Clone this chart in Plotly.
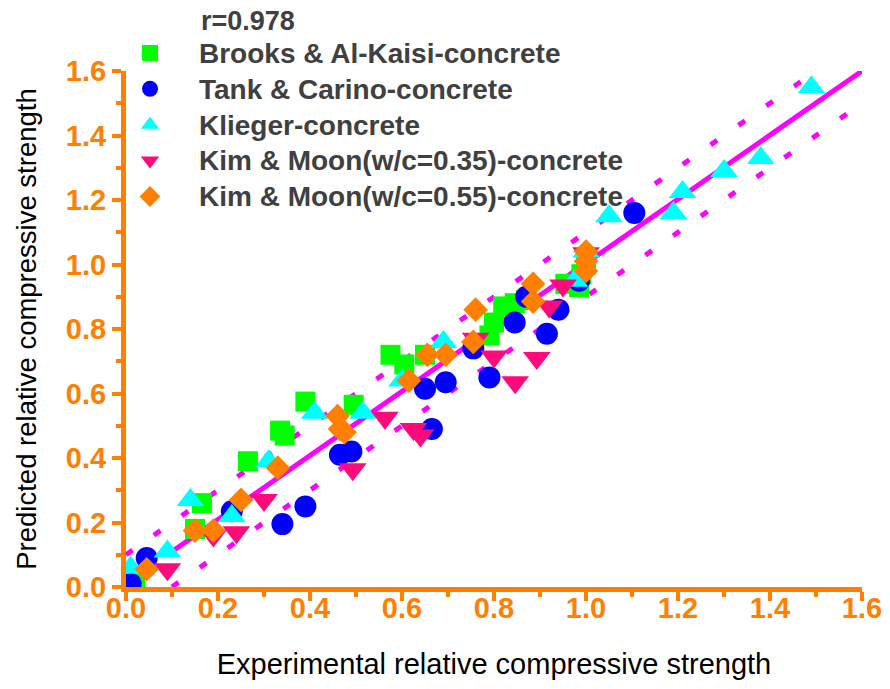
import plotly.graph_objects as go

# ---- data ----
brooks_x = [0.02, 0.15, 0.165, 0.265, 0.335, 0.345, 0.39, 0.495, 0.575, 0.605, 0.65,
            0.79, 0.80, 0.82, 0.845, 0.87, 0.955, 0.985, 1.0, 0.99]
brooks_y = [0.01, 0.18, 0.26, 0.39, 0.485, 0.47, 0.575, 0.565, 0.72, 0.69, 0.72,
            0.78, 0.82, 0.87, 0.88, 0.89, 0.94, 0.93, 1.0, 0.97]

tank_x = [0.01, 0.045, 0.23, 0.34, 0.39, 0.465, 0.49, 0.65, 0.695, 0.665, 0.755,
          0.79, 0.845, 0.87, 0.915, 0.94, 0.985, 1.105]
tank_y = [0.01, 0.09, 0.235, 0.195, 0.25, 0.41, 0.42, 0.615, 0.635, 0.49, 0.74,
          0.65, 0.82, 0.90, 0.785, 0.86, 0.95, 1.16]

klieger_x = [0.01, 0.09, 0.14, 0.23, 0.31, 0.41, 0.515, 0.60, 0.69, 0.975, 1.0,
             1.05, 1.19, 1.21, 1.30, 1.38, 1.49]
klieger_y = [0.06, 0.11, 0.27, 0.22, 0.39, 0.54, 0.54, 0.64, 0.76, 0.95, 1.04,
             1.15, 1.16, 1.225, 1.29, 1.33, 1.55]

kim35_x = [0.09, 0.19, 0.24, 0.30, 0.493, 0.563, 0.625, 0.64, 0.76, 0.80, 0.846,
           0.893, 0.92, 0.95, 1.0]
kim35_y = [0.055, 0.16, 0.17, 0.27, 0.365, 0.525, 0.49, 0.47, 0.77, 0.715, 0.635,
           0.71, 0.87, 0.935, 1.035]

kim55_x = [0.045, 0.15, 0.19, 0.25, 0.33, 0.46, 0.465, 0.475, 0.615, 0.655, 0.695,
           0.755, 0.76, 0.885, 0.885, 1.0, 1.0, 1.0]
kim55_y = [0.055, 0.175, 0.175, 0.27, 0.37, 0.53, 0.49, 0.48, 0.64, 0.72, 0.72,
           0.76, 0.86, 0.94, 0.885, 1.04, 1.01, 0.98]

fit_x = [0.09, 1.6]
fit_y = [0.10, 1.6]
upper_x = [0.0, 1.5]
upper_y = [0.1, 1.6]
lower_x = [0.1, 1.6]
lower_y = [0.0, 1.5]

tick_vals = [0.0, 0.2, 0.4, 0.6, 0.8, 1.0, 1.2, 1.4, 1.6]
tick_text = ["0.0", "0.2", "0.4", "0.6", "0.8", "1.0", "1.2", "1.4", "1.6"]

ORANGE = "#FF8000"
MAGENTA = "#FF00FF"
FONT = "Arial, Liberation Sans, sans-serif"

fig = go.Figure()

# fit line and bands
fig.add_trace(go.Scatter(x=upper_x, y=upper_y, mode="lines", showlegend=False,
                         line=dict(color=MAGENTA, width=5, dash="8px,26px")))
fig.add_trace(go.Scatter(x=lower_x, y=lower_y, mode="lines", showlegend=False,
                         line=dict(color=MAGENTA, width=5, dash="8px,26px")))
fig.add_trace(go.Scatter(x=fit_x, y=fit_y, mode="lines", showlegend=False,
                         line=dict(color=MAGENTA, width=5)))

series = [
    ("Brooks & Al-Kaisi-concrete", brooks_x, brooks_y, "square", "#00FF00", 20),
    ("Tank & Carino-concrete", tank_x, tank_y, "circle", "#0000FF", 22),
    ("Klieger-concrete", klieger_x, klieger_y, "triangle-up", "#00FFFF", 24),
    ("Kim & Moon(w/c=0.35)-concrete", kim35_x, kim35_y, "triangle-down", "#FF0A7A", 24),
    ("Kim & Moon(w/c=0.55)-concrete", kim55_x, kim55_y, "diamond", ORANGE, 19),
]
for name, xs, ys, sym, col, sz in series:
    fig.add_trace(go.Scatter(x=xs, y=ys, mode="markers",
                             name='<span style="font-size:28px">%s</span>' % name,
                             marker=dict(symbol=sym, color=col, size=sz,
                                         line=dict(width=0))))

axis_common = dict(
    range=[0, 1.6], tickvals=tick_vals, ticktext=tick_text,
    showline=True, linecolor=ORANGE, linewidth=5,
    ticks="outside", ticklen=9, tickwidth=4, tickcolor=ORANGE,
    minor=dict(dtick=0.1, ticks="outside", ticklen=5, tickwidth=4, tickcolor=ORANGE),
    tickfont=dict(family=FONT, size=29, color=ORANGE, weight="bold"),
    showgrid=False, zeroline=False, mirror=False, automargin=False,
)

fig.update_xaxes(**axis_common, ticklabelstandoff=-18,
                 title=dict(text="Experimental relative compressive strength",
                            font=dict(family=FONT, size=29, color="#000000"),
                            standoff=32))
fig.update_yaxes(**axis_common,
                 title=dict(text="Predicted relative compressive strength",
                            font=dict(family=FONT, size=27.5, color="#000000"),
                            standoff=23))

fig.add_annotation(text="<b>r=0.978</b>", xref="paper", yref="paper",
                   x=(199 - 126) / 736, y=(587 - 4) / 516, xanchor="left", yanchor="top",
                   showarrow=False,
                   font=dict(family=FONT, size=27, color="#404040"))

fig.update_layout(
    width=890, height=689,
    margin=dict(l=126, r=28, t=71, b=102),
    paper_bgcolor="white", plot_bgcolor="white",
    legend=dict(x=(101 - 126) / 736, y=(587 - 30) / 516, xanchor="left", yanchor="top",
                bgcolor="rgba(0,0,0,0)", itemwidth=88,
                font=dict(family=FONT, size=25.3, color="#404040", weight="bold")),
)

fig.write_html("out.html")
